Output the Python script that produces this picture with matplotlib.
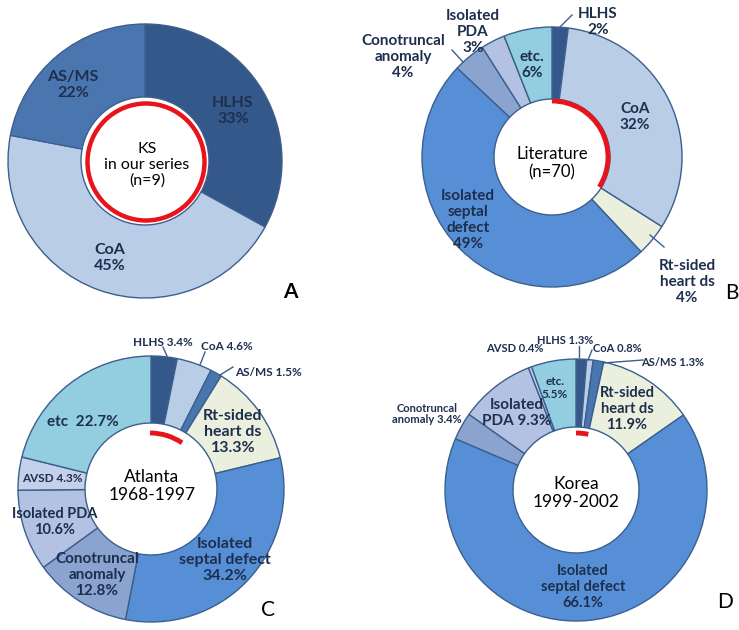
import matplotlib
matplotlib.use("Agg")
import matplotlib.pyplot as plt
from matplotlib.patches import Arc, Circle

plt.rcParams['font.family'] = ['Lato', 'DejaVu Sans']

W, H = 739, 630

# ---------------- data ----------------
# Panel A : KS in our series (n=9)
a_names = ["HLHS", "CoA", "AS/MS"]
a_vals = [33, 45, 22]

# Panel B : Literature (n=70)
b_names = ["HLHS", "CoA", "Rt-sided\nheart ds", "Isolated\nseptal\ndefect",
           "Conotruncal\nanomaly", "Isolated\nPDA", "etc."]
b_vals = [2, 32, 4, 49, 4, 3, 6]

# Panel C : Atlanta 1968-1997
c_names = ["HLHS", "CoA", "AS/MS", "Rt-sided\nheart ds", "Isolated\nseptal defect",
           "Conotruncal\nanomaly", "Isolated PDA", "AVSD", "etc "]
c_vals = [3.4, 4.6, 1.5, 13.3, 34.2, 12.8, 10.6, 4.3, 22.7]

# Panel D : Korea 1999-2002
d_names = ["HLHS", "CoA", "AS/MS", "Rt-sided\nheart ds", "Isolated\nseptal defect",
           "Conotruncal\nanomaly", "Isolated\nPDA", "AVSD", "etc."]
d_vals = [1.3, 0.8, 1.3, 11.9, 66.1, 3.4, 9.3, 0.4, 5.5]

# ---------------- colours ----------------
col = {"HLHS": "#34588a", "CoA": "#b9cde6", "AS/MS": "#4a76b0",
       "Rt": "#ebf0de", "ISD": "#568fd6", "Cono": "#8ba3cf",
       "PDA": "#b3c1e2", "AVSD": "#c5d0ea", "etc": "#92cedf"}
a_cols = [col["HLHS"], col["CoA"], col["AS/MS"]]
b_cols = [col["HLHS"], col["CoA"], col["Rt"], col["ISD"], col["Cono"], col["PDA"], col["etc"]]
cd_cols = [col["HLHS"], col["CoA"], col["AS/MS"], col["Rt"], col["ISD"],
           col["Cono"], col["PDA"], col["AVSD"], col["etc"]]

edge = "#3c5f8e"
txt = "#1e2f4e"
red = "#e8141b"

fig = plt.figure(figsize=(W/100, H/100), dpi=100)
ax = fig.add_axes([0, 0, 1, 1])


def Y(y):
    return H - y


def donut(cx, cy, r, rin, vals, cols):
    ax.pie(vals, colors=cols, startangle=90, counterclock=False,
           center=(cx, Y(cy)), radius=r,
           wedgeprops=dict(width=r-rin, edgecolor=edge, linewidth=1.0))


def red_arc(cx, cy, r, pct):
    span = pct*3.6
    if span >= 359.9:
        ax.add_patch(Circle((cx, Y(cy)), r, fill=False, ec=red, lw=3.2))
    else:
        ax.add_patch(Arc((cx, Y(cy)), 2*r, 2*r, theta1=90-span, theta2=90,
                         color=red, lw=3.5))


def lab(x, y, s, size=11, weight='bold', color=txt, ls=1.2):
    ax.text(x, Y(y), s, ha='center', va='center', fontsize=size,
            fontweight=weight, color=color, linespacing=ls)


def lead(x0, y0, x1, y1):
    ax.plot([x0, x1], [Y(y0), Y(y1)], color=edge, lw=1.0)


# ---------------- A ----------------
donut(145, 161, 137, 64, a_vals, a_cols)
red_arc(146, 162, 58.5, sum(a_vals[:3]))
lab(73, 85, f"{a_names[2]}\n{a_vals[2]}%", size=11.5)
lab(233, 111, f"{a_names[0]}\n{a_vals[0]}%", size=11.5)
lab(110, 258, f"{a_names[1]}\n{a_vals[1]}%", size=11.5)
lab(147, 165, "KS\nin our series\n(n=9)", size=11.5, weight='normal', color='black', ls=1.15)
lab(290, 292, "A", size=15, color='black')

# ---------------- B ----------------
donut(552, 157, 130, 58, b_vals, b_cols)
red_arc(552, 157, 56, b_vals[0] + b_vals[1])
lab(598, 22, f"{b_names[0]}\n{b_vals[0]}%")
lead(572, 15, 558, 29)
lab(635, 117, f"{b_names[1]}\n{b_vals[1]}%")
lab(687, 282, f"{b_names[2]}\n{b_vals[2]}%")
lead(650, 235, 664, 247)
lab(468, 220, f"{b_names[3]}\n{b_vals[3]}%")
lab(403, 57, f"{b_names[4]}\n{b_vals[4]}%")
lead(452, 50, 463, 62)
lab(473, 32, f"{b_names[5]}\n{b_vals[5]}%")
lab(532, 65, f"{b_names[6]}\n{b_vals[6]}%")
lab(552, 163, "Literature\n(n=70)", size=12, weight='normal', color='black', ls=1.2)
lab(732, 293, "B", size=15, color='black', weight='normal')

# ---------------- C ----------------
donut(151, 489, 133, 66, c_vals, cd_cols)
red_arc(150, 490, 57, sum(c_vals[:3]))
lab(163, 342, f"{c_names[0]} {c_vals[0]}%", size=8.5)
lead(163, 347, 167, 356)
lab(227, 347, f"{c_names[1]} {c_vals[1]}%", size=8.5)
lead(205, 352, 200, 365)
lab(268, 372, f"{c_names[2]} {c_vals[2]}%", size=8.5)
lead(233, 367, 220, 375)
lab(233, 432, f"{c_names[3]}\n{c_vals[3]}%", size=11.5)
lab(225, 560, f"{c_names[4]}\n{c_vals[4]}%", size=11.5)
lab(97, 575, f"{c_names[5]}\n{c_vals[5]}%", size=11)
lab(55, 522, f"{c_names[6]}\n{c_vals[6]}%", size=10.5)
lab(52, 478, f"{c_names[7]} {c_vals[7]}%", size=8.5)
lab(83, 422, f"{c_names[8]} {c_vals[8]}%", size=11)
lab(152, 486, "Atlanta\n1968-1997", size=12.5, weight='normal', color='black', ls=1.2)
lab(268, 610, "C", size=15, color='black', weight='normal')

# ---------------- D ----------------
donut(576, 490, 131, 63, d_vals, cd_cols)
red_arc(576, 491, 58, sum(d_vals[:3]))
lab(565, 340, f"{d_names[0]} {d_vals[0]}%", size=8)
lead(579, 346, 579, 357)
lab(617, 349, f"{d_names[1]} {d_vals[1]}%", size=8)
lead(592, 350, 588, 360)
lab(673, 363, f"{d_names[2]} {d_vals[2]}%", size=8)
lead(643, 360, 603, 363)
lab(627, 409, f"{d_names[3]}\n{d_vals[3]}%", size=10.5)
lab(583, 587, f"{d_names[4]}\n{d_vals[4]}%", size=10.5)
lab(427, 414, f"{d_names[5]} {d_vals[5]}%", size=8, ls=1.1)
lab(517, 413, f"{d_names[6]} {d_vals[6]}%", size=11)
lab(515, 349, f"{d_names[7]} {d_vals[7]}%", size=8)
lab(555, 388, f"{d_names[8]}\n{d_vals[8]}%", size=8.5)
lab(576, 493, "Korea\n1999-2002", size=12.5, weight='normal', color='black', ls=1.2)
lab(725, 602, "D", size=15, color='black', weight='normal')

ax.set_xlim(0, W)
ax.set_ylim(0, H)
ax.set_aspect('equal')
ax.axis('off')

fig.savefig("out.png", dpi=100)
